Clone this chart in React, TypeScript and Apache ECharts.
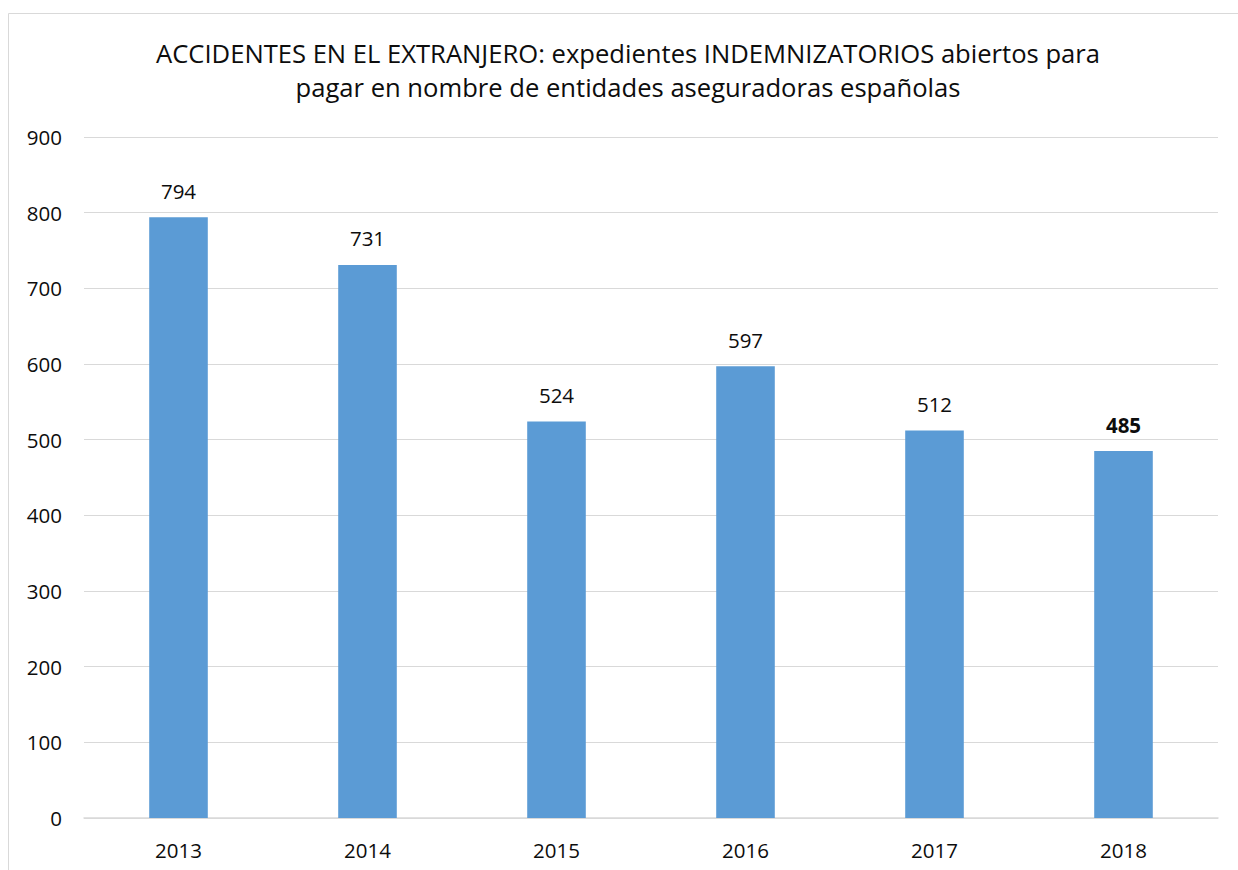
import React, { useEffect, useRef } from "react";
import * as echarts from "echarts";

const years = ["2013", "2014", "2015", "2016", "2017", "2018"];
const values = [794, 731, 524, 597, 512, 485];
const titleLines = [
  "ACCIDENTES EN EL EXTRANJERO: expedientes INDEMNIZATORIOS abiertos para",
  "pagar en nombre de entidades aseguradoras españolas",
];

const FONT = "'Open Sans', 'Noto Sans', sans-serif";
const TXT = "#0d0d0d";

export default function App() {
  const ref = useRef<HTMLDivElement>(null);
  useEffect(() => {
    if (!ref.current) return;
    const chart = echarts.init(ref.current, undefined, { renderer: "svg" });
    chart.setOption({
      animation: false,
      backgroundColor: "#ffffff",
      title: {
        text: titleLines.join("\n"),
        left: 628,
        top: 36,
        textAlign: "center",
        padding: 0,
        textStyle: {
          fontFamily: FONT,
          fontSize: 25.6,
          fontWeight: "normal",
          color: TXT,
          lineHeight: 34,
        },
      },
      graphic: [
        {
          type: "rect",
          shape: { x: 8.5, y: 13.5, width: 1400, height: 1000 },
          style: { fill: "none", stroke: "#d9d9d9", lineWidth: 1 },
          silent: true,
        },
      ],
      grid: { left: 84, right: 20, top: 137, bottom: 52, containLabel: false },
      xAxis: {
        type: "category",
        data: years,
        axisLine: { lineStyle: { color: "#d9d9d9", width: 1.5 } },
        axisTick: { show: false },
        axisLabel: { fontFamily: FONT, fontSize: 20.5, color: TXT, margin: 21 },
      },
      yAxis: {
        type: "value",
        min: 0,
        max: 900,
        interval: 100,
        axisLine: { show: false },
        axisTick: { show: false },
        splitLine: { lineStyle: { color: "#d9d9d9", width: 1 } },
        axisLabel: { fontFamily: FONT, fontSize: 20.5, color: TXT, margin: 22 },
      },
      series: [
        {
          type: "bar",
          data: values.map((v, i) => ({
            value: v,
            label: i === values.length - 1 ? { fontWeight: "bold" } : undefined,
          })),
          barWidth: "31%",
          itemStyle: { color: "#5b9bd5" },
          label: {
            show: true,
            position: "top",
            distance: 16,
            fontFamily: FONT,
            fontSize: 20.5,
            color: TXT,
          },
        },
      ],
    });
    return () => chart.dispose();
  }, []);
  return (
    <div
      ref={ref}
      style={{ position: "absolute", left: 0, top: 0, width: 1238, height: 870 }}
    />
  );
}
